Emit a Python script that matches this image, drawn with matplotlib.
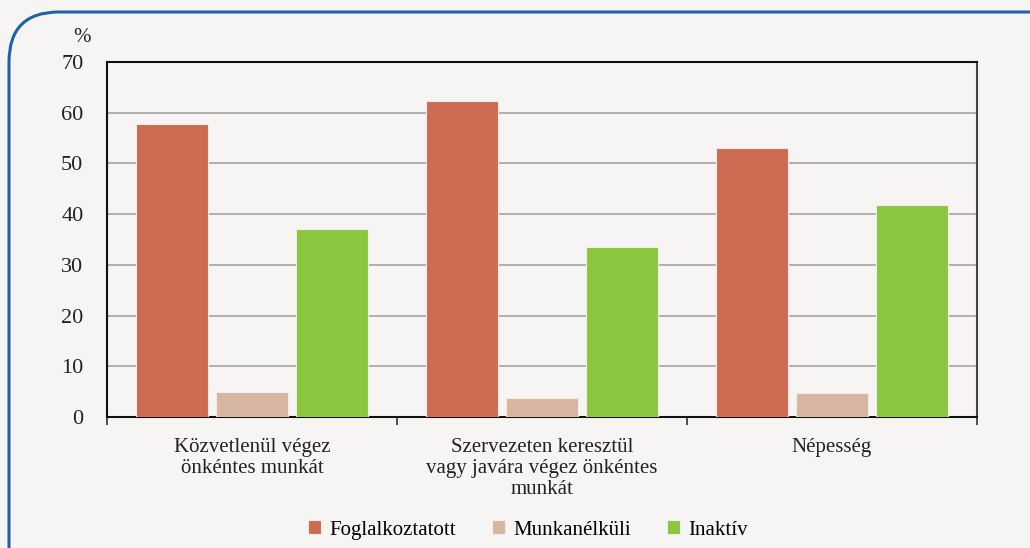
import matplotlib
matplotlib.use("Agg")
import matplotlib.pyplot as plt
import matplotlib.patches as mpatches
import numpy as np

categories = ["Közvetlenül végez\nönkéntes munkát",
              "Szervezeten keresztül\nvagy javára végez önkéntes\nmunkát",
              "Népesség"]
series_names = ["Foglalkoztatott", "Munkanélküli", "Inaktív"]
foglalkoztatott = [57.7, 62.3, 53.1]
munkanelkuli = [5.0, 3.8, 4.7]
inaktiv = [37.0, 33.5, 41.9]
yticks = [0, 10, 20, 30, 40, 50, 60, 70]

colors = ["#cd6a52", "#d6b6a0", "#8bc63f"]
bg = "#f6f5f3"

plt.rcParams['font.family'] = ['Liberation Serif', 'DejaVu Serif']

fig = plt.figure(figsize=(10.3, 5.48), dpi=100, facecolor=bg)
ax = fig.add_axes([107/1030, 1-417/548, (977-107)/1030, (417-62)/548])
ax.set_facecolor(bg)

# rounded frame
frame = mpatches.FancyBboxPatch((9, -80), 1150, 536 + 80,
                                boxstyle="round,pad=0,rounding_size=50",
                                transform=None, facecolor="none",
                                edgecolor="#1f63a6", linewidth=2.2, zorder=0)
fig.patches.append(frame)

x = np.arange(len(categories))
w = 72/290
step = 80/290
for i, (vals, name) in enumerate(zip([foglalkoztatott, munkanelkuli, inaktiv], series_names)):
    ax.bar(x + (i-1)*step, vals, width=w, color=colors[i], label=name,
           edgecolor="#f3ece6", linewidth=0.8, zorder=3)

ax.set_xlim(-0.5, len(categories)-0.5)
ax.set_ylim(0, 70)
ax.set_yticks(yticks)
ax.set_yticklabels([str(v) for v in yticks], fontsize=16, color="#222222")
ax.yaxis.grid(True, color="#aaaaaa", linewidth=1.3, zorder=0)
ax.set_axisbelow(True)
ax.tick_params(axis='y', length=0, pad=17)

ax.set_xticks(x)
ax.set_xticklabels(categories, fontsize=15, color="#222222", linespacing=1.15)
ax.tick_params(axis='x', which='major', length=0, pad=15)
ax.set_xticks(np.arange(-0.5, len(categories)), minor=True)
ax.tick_params(axis='x', which='minor', length=6, width=1.2, color="#333333", direction='out')

for s in ['left', 'top', 'bottom']:
    ax.spines[s].set_color("#111111")
    ax.spines[s].set_linewidth(1.5)
ax.spines['right'].set_color("#444444")
ax.spines['right'].set_linewidth(1.5)

fig.text(82/1030, 1-38/548, "%", fontsize=15, ha='center', va='center', color="#222222")

leg = fig.legend(loc='center', bbox_to_anchor=(528/1030, 1-530/548), ncol=3,
                 frameon=False, fontsize=15, handlelength=0.65, handleheight=0.65,
                 handletextpad=0.4, columnspacing=1.7)

fig.savefig("out.png", dpi=100, facecolor=bg)
